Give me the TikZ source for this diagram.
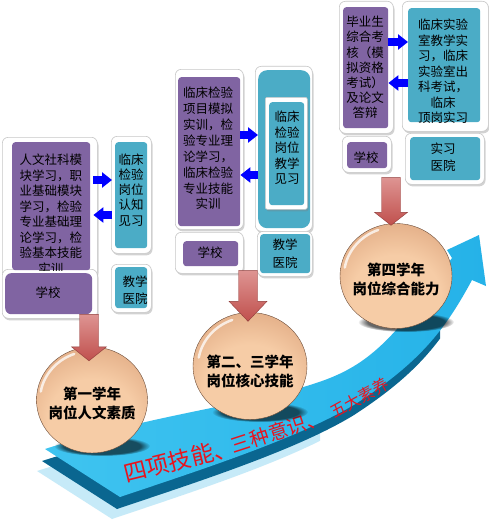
\documentclass[tikz,border=0pt]{standalone}
\usepackage{fontspec}
\usepackage{pdfrender}
\setmainfont{Noto Sans CJK SC}
\usetikzlibrary{arrows.meta,calc,fadings,shadows,shapes.geometric}
\definecolor{purp}{HTML}{8064A2}
\definecolor{cyanbox}{HTML}{4BACC6}
\definecolor{sphL}{HTML}{F6CCA6}
\definecolor{sphM}{HTML}{DDA57E}
\definecolor{sphD}{HTML}{9A6C50}
\definecolor{bandL}{HTML}{3FC4F0}
\definecolor{bandM}{HTML}{0B7DB6}
\definecolor{bandR}{HTML}{25B2E8}
\definecolor{bandS}{HTML}{0A6690}
\definecolor{bandG}{HTML}{BDE7F7}
\definecolor{bandred}{HTML}{E8141E}
\definecolor{arrR}{HTML}{C0504D}
\definecolor{arrP}{HTML}{DE9492}
\pgfdeclareradialshading{sphshade}{\pgfpoint{0bp}{-14bp}}{color(0bp)=(sphL); color(20bp)=(sphL); color(38bp)=(sphM); color(56bp)=(sphD); color(70bp)=(sphD)}
\newcommand\bandhalo[1]{\textcolor{bandred}{\textpdfrender{TextRenderingMode=FillStroke,LineWidth=0.6,StrokeColor=white}{#1}}}
\newcommand\boxat[6]{\node[#2, minimum width=#5pt, minimum height=#6pt] (#1) at (#3,#4) {};}
\newcommand\redarrow[4]{%
  \path[redarr] let \p1=(#1), \p2=(#2) in
    (\x2-9.5pt,\y1) -- (\x2+9.5pt,\y1) -- (\x2+9.5pt,\y2+#3) -- (\x2+#4,\y2+#3)
    -- (\x2,\y2) -- (\x2-#4,\y2+#3) -- (\x2-9.5pt,\y2+#3) -- cycle;}
\tikzset{
  wframe/.style={draw=black!22, fill=white, rounded corners=6pt, line width=0.6pt,
    drop shadow={shadow xshift=1.2pt, shadow yshift=-2pt, opacity=0.35},
    inner sep=0pt, anchor=north west},
  purpbox/.style={fill=purp, rounded corners=3pt, inner sep=0pt, anchor=north west},
  cyanbx/.style={fill=cyanbox, rounded corners=3pt, inner sep=0pt, anchor=north west},
  boxtext/.style={font=\fontsize{12.5}{15.5}\selectfont, align=center, inner sep=0pt, text=black},
  sphere/.style={ellipse, shade, shading=sphshade, draw=sphD!70!black, line width=0.4pt, inner sep=0pt},
  spheretext/.style={font=\bfseries\fontsize{14.5}{19}\selectfont, align=center, inner sep=0pt},
  bluearr/.style={draw=blue, line width=8pt, -{Triangle[width=15pt,length=10pt]}},
  redarr/.style={top color=arrP, bottom color=arrR, draw=arrR!75!black, line width=0.4pt},
  bandtxt/.style={inner sep=0pt, text=bandred},
}
\begin{document}
\begin{tikzpicture}[x=1pt,y=-1pt]
\useasboundingbox (0,0) rectangle (489,527);
\fill[white] (0,0) rectangle (489,527);

\def\bandpath{(45,449) .. controls (160,412) and (270,402) .. (330,378) .. controls (375,360) and (400,330) .. (452,258) -- (447,250) -- (479,235) -- (486,286) -- (472,280) .. controls (445,330) and (420,362) .. (357,403) .. controls (300,438) and (200,470) .. (120,497) -- cycle}

% band glow, side and top
\begin{scope}
  \clip (0,400) rectangle (320,527);
  \fill[bandG, opacity=0.85, shift={(-8,22)}] \bandpath;
\end{scope}
\begin{scope}
  \clip (0,300) rectangle (440,527);
  \fill[bandS, shift={(-3,12)}] \bandpath;
\end{scope}
\shade[left color=bandL, middle color=bandM, right color=bandR] \bandpath;

% band text
\node[bandtxt, rotate=14, font=\fontsize{23}{23}\selectfont] (bt1) at (180,460) {\bandhalo{四项技能、}};
\node[bandtxt, rotate=18, font=\fontsize{19.5}{19.5}\selectfont] (bt2) at (278,431) {\bandhalo{三种意识、}};
\node[bandtxt, rotate=29, font=\fontsize{16}{16}\selectfont] (bt3) at (360,398) {\bandhalo{五大素养}};

% spheres
\coordinate (c1) at (92,400);
\coordinate (c2) at (250,366);
\coordinate (c3) at (396,276);
\foreach \c in {c1,c2,c3}{
  \fill[black, opacity=0.6, path fading=circle with fuzzy edge 20 percent] ($(\c)+(10,46)$) ellipse [x radius=48pt, y radius=10pt];
}
\node[sphere, minimum width=111pt, minimum height=106pt] (s1) at (c1) {};
\node[sphere, minimum width=114pt, minimum height=107pt] (s2) at (c2) {};
\node[sphere, minimum width=112pt, minimum height=105pt] (s3) at (c3) {};
\foreach \c in {c1,c2,c3}{
  \draw[white, opacity=0.75, line width=2.5pt, line cap=round] ($(\c)+(170:52pt and 49pt)$) arc[start angle=170, end angle=110, x radius=52pt, y radius=49pt];
}
\node[spheretext] (s1t) at (92,403) {第一学年\\岗位人文素质};
\node[spheretext] (s2t) at (250,371) {第二、三学年\\岗位核心技能};
\node[spheretext] (s3t) at (396,279) {第四学年\\岗位综合能力};

% group 1
\boxat{p1f}{wframe}{2}{137}{95}{140}
\boxat{x1f}{wframe}{2}{269}{95}{49}
\boxat{p1}{purpbox}{12}{142}{78}{128}
\boxat{x1}{purpbox, rounded corners=6pt}{5}{273}{87}{41}
\boxat{b1f}{wframe}{111}{136}{40}{117}
\boxat{b1}{cyanbx}{115}{142}{32}{106}
\boxat{h1f}{wframe}{111}{264}{40}{48}
\boxat{h1}{cyanbx}{115}{267}{32}{41}
\begin{scope}
  \clip (p1.north west) rectangle (p1.south east);
  \node[boxtext] (p1t) at (51,214) {人文社科模\\块学习，职\\业基础模块\\学习，检验\\专业基础理\\论学习，检\\验基本技能\\实训};
\end{scope}
\node[boxtext, font=\fontsize{12.5}{15.2}\selectfont] (b1t) at (131,190) {临床\\检验\\岗位\\认知\\见习};
\node[boxtext] (x1t) at (48,293) {学校};
\node[boxtext, font=\fontsize{12.5}{17}\selectfont] (h1t) at (135,290) {教学\\医院};

% group 2
\boxat{p2f}{wframe}{175}{69}{68}{160}
\boxat{x2f}{wframe}{175}{232}{68}{41}
\boxat{p2}{purpbox}{178}{77}{62}{149}
\boxat{x2}{purpbox}{183}{241}{55}{25}
\boxat{b2f}{wframe}{255}{66}{57}{165}
\boxat{b2}{cyanbx, rounded corners=9pt}{258}{70}{52}{158}
\boxat{b2i}{wframe, rounded corners=2pt}{265}{97}{42}{112}
\boxat{b2c}{cyanbx}{269}{102}{35}{103}
\boxat{h2f}{wframe}{257}{231}{55}{45}
\boxat{h2}{cyanbx}{260}{234}{50}{39}
\node[boxtext, font=\fontsize{12.5}{15.9}\selectfont] (p2t) at (208,148.5) {临床检验\\项目模拟\\实训，检\\验专业理\\论学习，\\临床检验\\专业技能\\实训};
\node[boxtext] (b2t) at (287,148) {临床\\检验\\岗位\\教学\\见习};
\node[boxtext] (x2t) at (210,253) {学校};
\node[boxtext, font=\fontsize{12.5}{18}\selectfont] (h2t) at (285,253.5) {教学\\医院};

% group 3
\boxat{p3f}{wframe}{339}{1}{54}{132}
\boxat{x3f}{wframe}{342}{136}{49}{36}
\boxat{p3}{purpbox}{343}{7}{45}{121}
\boxat{x3}{purpbox}{347}{142}{40}{26}
\boxat{b3f}{wframe}{402}{1}{86}{130}
\boxat{b3}{cyanbx}{408}{8}{72}{114}
\boxat{h3f}{wframe}{405}{133}{79}{51}
\boxat{h3}{cyanbx}{410}{137}{70}{43}
\node[boxtext, font=\fontsize{12.5}{15.2}\selectfont] (p3t) at (365,67.5) {毕业生\\综合考\\核（模\\拟资格\\考试）\\及论文\\答辩};
\begin{scope}
  \clip (b3.north west) rectangle (b3.south east);
  \node[boxtext] (b3t) at (443,71.5) {临床实验\\室教学实\\习，临床\\实验室出\\科考试，\\临床\\顶岗实习};
\end{scope}
\node[boxtext] (x3t) at (366,158) {学校};
\node[boxtext, font=\fontsize{12.5}{17}\selectfont] (h3t) at (443,157.5) {实习\\医院};

% blue arrows
\draw[bluearr, shorten <=3pt, shorten >=3pt] (p1.east |- 0,180) -- (b1.west |- 0,180);
\draw[bluearr, shorten <=3pt, shorten >=3pt] (b1.west |- 0,215) -- (p1.east |- 0,215);
\draw[bluearr] (p2.east |- 0,135) -- (b2.west |- 0,135);
\draw[bluearr] (b2.west |- 0,175) -- (p2.east |- 0,175);
\draw[bluearr] (p3.east |- 0,42) -- (b3.west |- 0,42);
\draw[bluearr] (b3.west |- 0,83) -- (p3.east |- 0,83);

% red arrows
\redarrow{x1.south}{[xshift=-3pt,yshift=-14pt]s1.north}{14pt}{17.5pt}
\redarrow{[yshift=3pt]x2f.south}{[xshift=-2pt,yshift=-9pt]s2.north}{20pt}{19pt}
\redarrow{[yshift=-5pt]x3f.south}{[xshift=-5pt,yshift=-2pt]s3.north}{13pt}{16.5pt}
\end{tikzpicture}
\end{document}
